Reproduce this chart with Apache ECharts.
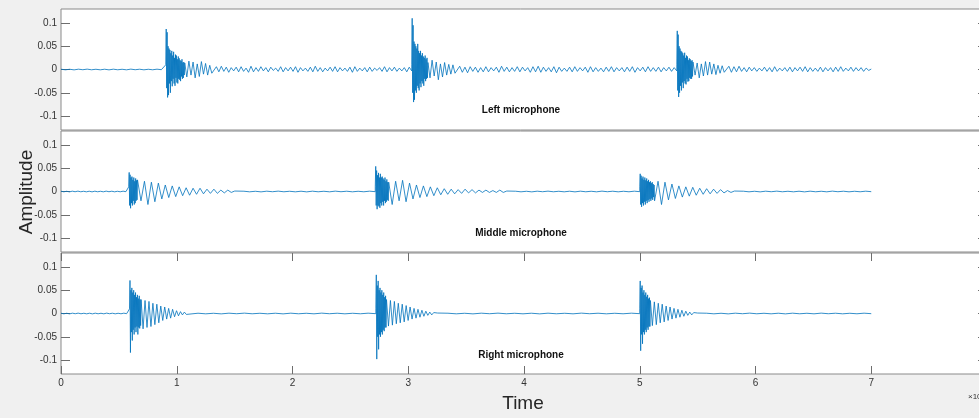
<!DOCTYPE html>
<html>
<head>
<meta charset="utf-8">
<script src="https://cdn.jsdelivr.net/npm/echarts@6/dist/echarts.min.js"></script>
<style>
  html, body { margin: 0; padding: 0; background: #f0f0f0; }
  #chart { width: 979px; height: 418px; }
</style>
</head>
<body>
<div id="chart"></div>
<script>
// ---- data (time in units of the x axis, amplitude as plotted) ----
const END_TIME = 7;
const HIT_STEP = 0.004;
const timeTicks = [0, 1, 2, 3, 4, 5, 6, 7, 8];
const ampTicks = [-0.1, -0.05, 0, 0.05, 0.1];
const titles = ['Left microphone', 'Middle microphone', 'Right microphone'];

// near-silent stretches
const quietNoise = [0.0006, -0.0007, 0.0005, -0.0008, 0.0007, -0.0005, 0.0008, -0.0006, 0.0005, -0.0007, 0.0006, -0.0008,
  0.0007, -0.0006, 0.0005, -0.0007, 0.0008, -0.0005, 0.0006, -0.0007, 0.0005, -0.0006, 0.0007, -0.0004];

// left microphone
const leftOnsets = [0.905, 3.03, 5.32];
const leftHit1 = [0.01, 0.087, -0.04, 0.08, -0.06, 0.05, -0.055, 0.045, -0.03, 0.042, -0.05, 0.035, -0.025, 0.04, -0.036,
  0.03, -0.02, 0.038, -0.03, 0.025, -0.035, 0.032, -0.018, 0.03, -0.028, 0.022, -0.03, 0.028, -0.02, 0.024, -0.022, 0.02,
  -0.025, 0.018, -0.015, 0.022, -0.02, 0.015, -0.018, 0.016, -0.012];
const leftRing1 = [0.014, -0.016, 0.018, -0.012, 0.016, -0.018, 0.012, -0.015, 0.017, -0.01, 0.013, -0.012, 0.009, -0.008];
const leftHum1 = [0.006, -0.005, 0.007, -0.004, 0.005, -0.006, 0.004, -0.003, 0.005, -0.005,
  0.006, -0.004, 0.003, -0.006, 0.007, -0.005, 0.004, -0.004, 0.006, -0.003,
  0.004, -0.005, 0.005, -0.002, 0.003, -0.004, 0.006, -0.005, 0.004, -0.003,
  0.005, -0.004, 0.006, -0.006, 0.004, -0.003, 0.003, -0.004, 0.005, -0.005,
  0.007, -0.004, 0.004, -0.005, 0.003, -0.003, 0.005, -0.004, 0.006, -0.005,
  0.004, -0.003, 0.003, -0.004, 0.005, -0.006, 0.006, -0.004, 0.003, -0.003,
  0.004, -0.005, 0.005, -0.004, 0.003, -0.002, 0.004, -0.004, 0.006, -0.005,
  0.004, -0.003, 0.005, -0.004, 0.003, -0.003, 0.004, -0.005, 0.005, -0.003];
const leftHit2 = [0.01, 0.11, -0.05, 0.095, -0.07, 0.06, -0.065, 0.055, -0.045, 0.05, -0.05, 0.045, -0.035, 0.055, -0.04,
  0.04, -0.045, 0.035, -0.03, 0.04, -0.038, 0.03, -0.025, 0.035, -0.03, 0.028, -0.035, 0.025, -0.02, 0.03, -0.025, 0.022,
  -0.02, 0.025, -0.018];
const leftRing2 = [0.015, -0.018, 0.02, -0.014, 0.016, -0.022, 0.012, -0.016, 0.015, -0.012, 0.011, -0.01, 0.01, -0.008];
const leftHum2 = [0.007, -0.006, 0.005, -0.007, 0.006, -0.004, 0.005, -0.006, 0.004, -0.005,
  0.006, -0.005, 0.004, -0.003, 0.005, -0.006, 0.007, -0.004, 0.005, -0.005,
  0.004, -0.004, 0.006, -0.005, 0.005, -0.003, 0.004, -0.006, 0.006, -0.005,
  0.007, -0.006, 0.005, -0.004, 0.004, -0.005, 0.006, -0.007, 0.005, -0.004,
  0.003, -0.004, 0.005, -0.005, 0.006, -0.004, 0.004, -0.003, 0.005, -0.006,
  0.006, -0.005, 0.004, -0.004, 0.003, -0.005, 0.005, -0.004, 0.006, -0.005,
  0.004, -0.003, 0.004, -0.005, 0.005, -0.004, 0.006, -0.006, 0.004, -0.003,
  0.005, -0.005, 0.006, -0.004, 0.004, -0.004, 0.005, -0.005, 0.004, -0.003,
  0.005, -0.004, 0.004, -0.003];
const leftHit3 = [0.01, 0.083, -0.045, 0.075, -0.059, 0.05, -0.05, 0.045, -0.035, 0.04, -0.045, 0.038, -0.028, 0.035, -0.04,
  0.03, -0.025, 0.036, -0.03, 0.025, -0.032, 0.03, -0.02, 0.028, -0.026, 0.02, -0.025, 0.024, -0.018, 0.022, -0.02, 0.018,
  -0.02, 0.02, -0.015];
const leftRing3 = [0.016, -0.012, 0.014, -0.018, 0.012, -0.014, 0.017, -0.012, 0.016, -0.01, 0.012, -0.011, 0.009, -0.008, 0.008, -0.006];
const leftHum3 = [0.007, -0.006, 0.006, -0.005, 0.007, -0.004, 0.004, -0.005, 0.005, -0.003,
  0.004, -0.004, 0.003, -0.003, 0.005, -0.004, 0.004, -0.005, 0.006, -0.004,
  0.003, -0.003, 0.004, -0.004, 0.005, -0.005, 0.004, -0.003, 0.005, -0.004,
  0.006, -0.005, 0.004, -0.004, 0.003, -0.004, 0.005, -0.005, 0.004, -0.003,
  0.004, -0.005, 0.005, -0.004, 0.006, -0.004, 0.003, -0.003, 0.005, -0.004,
  0.004, -0.003, 0.004, -0.004, 0.003, -0.002, 0.001];

// middle microphone
const middleOnsets = [0.585, 2.715, 5.0];
const middleHit1 = [0.01, 0.041, -0.03, 0.036, -0.036, 0.03, -0.025, 0.032, -0.03, 0.025, -0.02, 0.03, -0.028, 0.022, -0.025,
  0.028, -0.02, 0.024, -0.018];
const middleRing1 = [0.025, -0.02, 0.022, -0.028, 0.02, -0.022, 0.018, -0.016, 0.014, -0.013, 0.012, -0.011, 0.01, -0.009,
  0.008, -0.008, 0.007, -0.006, 0.007, -0.005, 0.005, -0.004, 0.005, -0.004, 0.003, -0.003, 0.003, -0.002, 0.001];
const middleHit2 = [0.01, 0.054, -0.03, 0.045, -0.038, 0.035, -0.03, 0.04, -0.032, 0.03, -0.035, 0.038, -0.025, 0.03, -0.03,
  0.032, -0.022, 0.028, -0.03, 0.025, -0.02, 0.03, -0.025, 0.022, -0.022, 0.026, -0.018, 0.02, -0.02];
const middleRing2 = [0.02, -0.028, 0.022, -0.02, 0.024, -0.022, 0.018, -0.016, 0.014, -0.013, 0.012, -0.011, 0.01, -0.009,
  0.008, -0.007, 0.006, -0.006, 0.005, -0.005, 0.004, -0.004, 0.005, -0.003, 0.004, -0.003, 0.003, -0.002, 0.003, -0.002,
  0.002, -0.002, 0.003, -0.002, 0.001];
const middleHit3 = [0.01, 0.038, -0.028, 0.034, -0.033, 0.028, -0.025, 0.032, -0.03, 0.025, -0.022, 0.03, -0.028, 0.024, -0.02,
  0.028, -0.025, 0.022, -0.018, 0.025, -0.022, 0.02, -0.016, 0.022, -0.02, 0.018, -0.015, 0.02, -0.018, 0.016, -0.012, 0.014];
const middleRing3 = [-0.02, 0.022, -0.028, 0.02, -0.018, 0.016, -0.015, 0.012, -0.012, 0.01, -0.01, 0.009, -0.008, 0.007,
  -0.006, 0.006, -0.005, 0.005, -0.004, 0.004, -0.003, 0.002, -0.002, 0.001];

// right microphone
const rightOnsets = [0.592, 2.72, 5.0];
const rightHit1 = [0.01, 0.071, -0.084, 0.05, -0.04, 0.055, -0.058, 0.045, -0.035, 0.05, -0.045, 0.04, -0.03, 0.045, -0.04,
  0.035, -0.028, 0.04, -0.045, 0.032, -0.03, 0.038, -0.032, 0.03, -0.026];
const rightRing1 = [0.03, -0.033, 0.028, -0.03, 0.026, -0.028, 0.022, -0.024, 0.02, -0.02, 0.016, -0.015, 0.014, -0.012,
  0.011, -0.01, 0.009, -0.007, 0.006, -0.005, 0.004, -0.003, 0.003, -0.002, 0.001];
const rightHit2 = [0.01, 0.083, -0.098, 0.06, -0.05, 0.07, -0.077, 0.05, -0.045, 0.055, -0.05, 0.045, -0.04, 0.05, -0.045,
  0.04, -0.035, 0.045, -0.038, 0.035, -0.03, 0.038, -0.03];
const rightRing2 = [0.03, -0.027, 0.028, -0.025, 0.026, -0.022, 0.022, -0.02, 0.02, -0.018, 0.017, -0.015, 0.014, -0.012,
  0.011, -0.01, 0.009, -0.008, 0.007, -0.006, 0.005, -0.004, 0.003, -0.003, 0.002, -0.002, 0.001];
const rightHit3 = [0.01, 0.07, -0.08, 0.055, -0.045, 0.06, -0.065, 0.045, -0.04, 0.05, -0.045, 0.04, -0.035, 0.045, -0.04,
  0.036, -0.03, 0.04, -0.035, 0.032, -0.028, 0.034, -0.028];
const rightRing3 = [0.028, -0.026, 0.025, -0.024, 0.022, -0.02, 0.02, -0.018, 0.016, -0.015, 0.014, -0.012, 0.011, -0.01,
  0.009, -0.008, 0.007, -0.006, 0.005, -0.004, 0.003, -0.003, 0.002, -0.002, 0.001];

// ---- build traces: each hit is sampled at HIT_STEP, ringing at ringStep, then the
// remaining samples are laid out evenly up to the next hit (or the end) ----
function buildTrace(onsets, hitRuns, ringRuns, humRuns, ringStep) {
  const pts = [];
  quietNoise.forEach((v, i) => pts.push([i * onsets[0] / quietNoise.length, v]));
  onsets.forEach((t0, k) => {
    let t = t0;
    hitRuns[k].forEach(v => { pts.push([t, v]); t += HIT_STEP; });
    ringRuns[k].forEach(v => { pts.push([t, v]); t += ringStep; });
    const end = k + 1 < onsets.length ? onsets[k + 1] : END_TIME;
    const hum = humRuns[k];
    const span = (end - t) / hum.length;
    hum.forEach((v, i) => pts.push([t + (i + 1) * span, v]));
  });
  return pts;
}

const traces = [
  buildTrace(leftOnsets, [leftHit1, leftHit2, leftHit3], [leftRing1, leftRing2, leftRing3], [leftHum1, leftHum2, leftHum3], 0.018),
  buildTrace(middleOnsets, [middleHit1, middleHit2, middleHit3], [middleRing1, middleRing2, middleRing3], [quietNoise, quietNoise, quietNoise], 0.03),
  buildTrace(rightOnsets, [rightHit1, rightHit2, rightHit3], [rightRing1, rightRing2, rightRing3], [quietNoise, quietNoise, quietNoise], 0.017)
];

// ---- chart ----
const FONT = '"Liberation Sans", Arial, sans-serif';
const gridTops = [9, 131, 253];
const tickStyle = { color: '#6e6e6e' };

const grids = gridTops.map(top => ({
  left: 61, right: -8, top: top, height: 121,
  containLabel: false, outerBoundsMode: 'none',
  show: true, backgroundColor: '#fff', borderColor: '#8a8a8a', borderWidth: 1
}));

const xAxes = [0, 1].map(i => ({
  type: 'value', gridIndex: i, min: 0, max: 8, show: false
}));
['bottom', 'top'].forEach(pos => {
  xAxes.push({
    type: 'value', gridIndex: 2, min: 0, max: 8, interval: 1, position: pos,
    axisLine: { show: false, onZero: false },
    axisTick: { inside: true, length: 8, lineStyle: tickStyle },
    axisLabel: { show: pos === 'bottom', color: '#333', fontSize: 10, fontFamily: FONT, margin: 4,
      formatter: v => timeTicks.includes(v) ? String(v) : '' },
    splitLine: { show: false }
  });
});

const yAxes = [];
[0, 1, 2].forEach(i => {
  ['left', 'right'].forEach(pos => {
    yAxes.push({
      type: 'value', gridIndex: i, position: pos, min: -0.13, max: 0.13,
      axisLine: { show: false, onZero: false },
      axisTick: { inside: true, length: 9, customValues: ampTicks, lineStyle: tickStyle },
      axisLabel: { show: pos === 'left', customValues: ampTicks, color: '#333', fontSize: 10, fontFamily: FONT, margin: 4 },
      splitLine: { show: false }
    });
  });
});

const series = traces.map((pts, i) => ({
  type: 'line', xAxisIndex: i, yAxisIndex: i * 2, data: pts,
  showSymbol: false, symbol: 'none', clip: true,
  lineStyle: { color: '#0072BD', width: 0.8 }
}));

const titleY = [110, 233, 355];
const graphics = titles.map((t, i) => ({
  type: 'text', x: 521, y: titleY[i],
  style: { text: t, fill: '#111', font: 'bold 10px ' + FONT, textAlign: 'center', textVerticalAlign: 'middle' }
}));
graphics.push({
  type: 'text', x: 27, y: 192, rotation: Math.PI / 2,
  style: { text: 'Amplitude', fill: '#262626', font: '19px ' + FONT, textAlign: 'center', textVerticalAlign: 'middle' }
});
graphics.push({
  type: 'text', x: 523, y: 404,
  style: { text: 'Time', fill: '#262626', font: '19px ' + FONT, textAlign: 'center', textVerticalAlign: 'middle' }
});
graphics.push({
  type: 'text', x: 968, y: 397,
  style: { text: '×10⁴', fill: '#333', font: '8px ' + FONT, textAlign: 'left', textVerticalAlign: 'middle' }
});

const chart = echarts.init(document.getElementById('chart'));
chart.setOption({
  backgroundColor: '#f0f0f0',
  animation: false,
  grid: grids,
  xAxis: xAxes,
  yAxis: yAxes,
  series: series,
  graphic: graphics
});
</script>
</body>
</html>
